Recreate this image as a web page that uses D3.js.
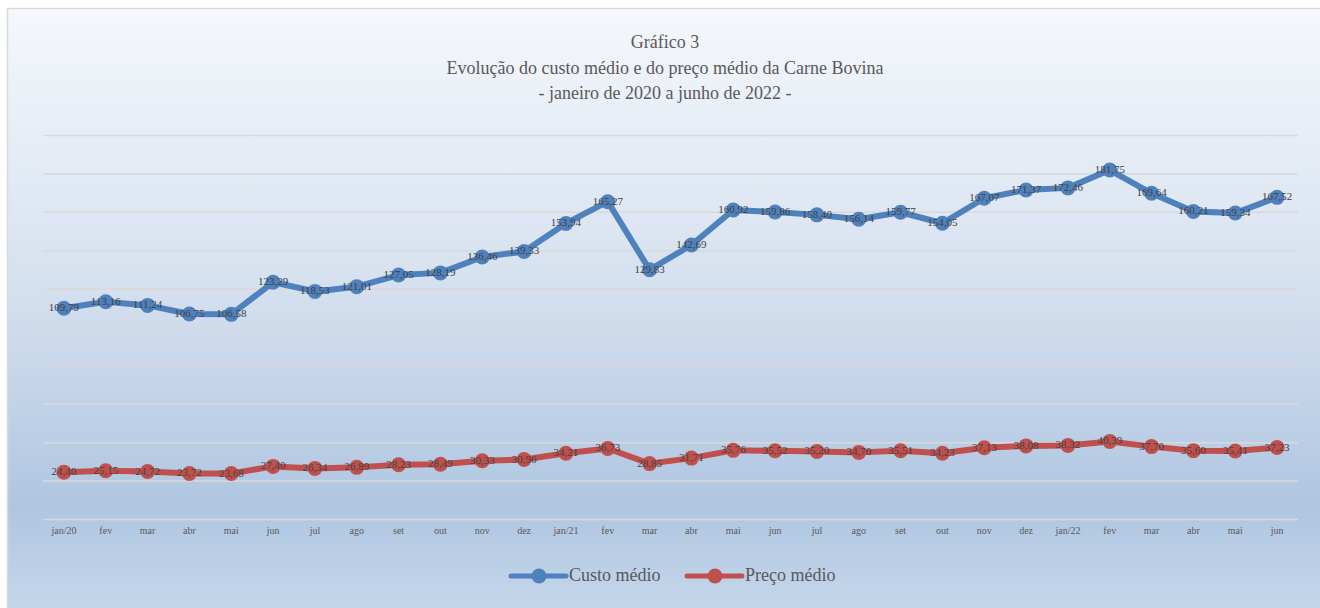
<!DOCTYPE html>
<html>
<head>
<meta charset="utf-8">
<script src="https://cdn.jsdelivr.net/npm/d3@7"></script>
<style>
  body { margin: 0; background: #ffffff; }
  svg { display: block; }
</style>
</head>
<body>
<div id="chart"></div>
<script>
// months (x categories)
var months = ["jan/20", "fev", "mar", "abr", "mai", "jun", "jul", "ago", "set", "out", "nov", "dez",
              "jan/21", "fev", "mar", "abr", "mai", "jun", "jul", "ago", "set", "out", "nov", "dez",
              "jan/22", "fev", "mar", "abr", "mai", "jun"];

// Custo médio
var custo = [109.79, 113.16, 111.24, 106.75, 106.58, 123.29, 118.53, 121.01, 127.05, 128.19, 136.46, 139.33,
             153.94, 165.27, 129.83, 142.69, 160.92, 159.86, 158.40, 156.14, 159.77, 154.05, 167.07, 171.37,
             172.46, 181.75, 169.64, 160.21, 159.34, 167.52];

// Preço médio
var preco = [24.40, 25.15, 24.72, 23.72, 23.68, 27.40, 26.34, 26.89, 28.23, 28.49, 30.33, 30.96,
             34.21, 36.73, 28.85, 31.71, 35.76, 35.52, 35.20, 34.70, 35.51, 34.23, 37.13, 38.08,
             38.32, 40.39, 37.70, 35.60, 35.41, 37.23];

var yTicks = [0, 20, 40, 60, 80, 100, 120, 140, 160, 180, 200];

var titleLines = ["Gráfico 3",
                  "Evolução do custo médio e do preço médio da Carne Bovina",
                  "- janeiro de 2020 a junho de 2022 -"];

var seriesNames = ["Custo médio", "Preço médio"];
var seriesColors = ["#4f81bd", "#c0504d"];

var svgWidth = 1320, svgHeight = 608;
var margin = { top: 135, bottom: 89, left: 43, right: 22 };
var width = svgWidth - margin.left - margin.right;
var height = svgHeight - margin.top - margin.bottom;

var svg = d3.select("#chart").append("svg")
    .attr("width", svgWidth)
    .attr("height", svgHeight);

// background gradient
var grad = svg.append("defs").append("linearGradient")
    .attr("id", "bg")
    .attr("x1", 0).attr("y1", 0).attr("x2", 0).attr("y2", 1);
grad.append("stop").attr("offset", "0%").attr("stop-color", "#f5f8fc");
grad.append("stop").attr("offset", "45%").attr("stop-color", "#d6e1ef");
grad.append("stop").attr("offset", "82%").attr("stop-color", "#afc6e1");
grad.append("stop").attr("offset", "100%").attr("stop-color", "#c6d7eb");

svg.append("rect")
    .attr("x", 7.5).attr("y", 8.5)
    .attr("width", svgWidth).attr("height", svgHeight)
    .attr("fill", "url(#bg)")
    .attr("stroke", "#d9d9d9")
    .attr("stroke-width", 1.5);

// title
svg.append("g").selectAll("text")
    .data(titleLines)
    .enter()
    .append("text")
    .attr("x", 665)
    .attr("y", function(d, i) { return 48 + i * 25.5; })
    .attr("text-anchor", "middle")
    .attr("font-family", "'Liberation Serif', 'Times New Roman', serif")
    .attr("font-size", "18px")
    .attr("fill", "#595959")
    .text(function(d) { return d; });

var chartGroup = svg.append("g")
    .attr("transform", `translate(${margin.left}, ${margin.top})`);

// scales
var xScale = d3.scaleBand()
    .domain(d3.range(months.length))
    .range([0, width]);

var yScale = d3.scaleLinear()
    .domain([0, 200])
    .range([height, 0]);

// gridlines
var yAxis = d3.axisLeft(yScale)
    .tickValues(yTicks)
    .tickSize(-width)
    .tickFormat("");

var gridG = chartGroup.append("g").call(yAxis);
gridG.select(".domain").remove();
gridG.selectAll("line")
    .attr("stroke", "#d9d9d9")
    .attr("stroke-width", 1.5);

// x axis labels
var xAxis = d3.axisBottom(xScale)
    .tickSize(0)
    .tickFormat(function(i) { return months[i]; });

var xG = chartGroup.append("g")
    .attr("transform", `translate(0, ${height})`)
    .call(xAxis);
xG.select(".domain").remove();
xG.selectAll("text")
    .attr("dy", "1.15em")
    .attr("font-family", "'Liberation Serif', 'Times New Roman', serif")
    .attr("font-size", "10px")
    .attr("fill", "#595959");

var cx = function(d, i) { return xScale(i) + xScale.bandwidth() / 2; };
var fmt = function(v) { return d3.format(".2f")(v).replace(".", ","); };

var line = d3.line()
    .x(cx)
    .y(function(d) { return yScale(d); });

[custo, preco].forEach(function(series, s) {
    var g = chartGroup.append("g");
    g.append("path")
        .datum(series)
        .attr("d", line)
        .attr("fill", "none")
        .attr("stroke", seriesColors[s])
        .attr("stroke-width", 6)
        .attr("stroke-linejoin", "round")
        .attr("stroke-linecap", "round");

    g.selectAll("circle")
        .data(series)
        .enter()
        .append("circle")
        .attr("cx", cx)
        .attr("cy", function(d) { return yScale(d); })
        .attr("r", 7.5)
        .attr("fill", seriesColors[s]);

    g.selectAll("text")
        .data(series)
        .enter()
        .append("text")
        .attr("x", cx)
        .attr("y", function(d) { return yScale(d) + 3; })
        .attr("text-anchor", "middle")
        .attr("font-family", "'Liberation Serif', 'Times New Roman', serif")
        .attr("font-size", "11px")
        .attr("fill", "#404040")
        .text(fmt);
});

// legend
var legendX = [511, 687];
var legend = svg.append("g").attr("transform", "translate(0, 576)");
seriesNames.forEach(function(name, s) {
    var lg = legend.append("g").attr("transform", `translate(${legendX[s]}, 0)`);
    lg.append("line")
        .attr("x1", 0).attr("x2", 55)
        .attr("y1", 0).attr("y2", 0)
        .attr("stroke", seriesColors[s])
        .attr("stroke-width", 5)
        .attr("stroke-linecap", "round");
    lg.append("circle")
        .attr("cx", 28).attr("cy", 0)
        .attr("r", 7.5)
        .attr("fill", seriesColors[s]);
    lg.append("text")
        .attr("x", 58)
        .attr("y", 5)
        .attr("font-family", "'Liberation Serif', 'Times New Roman', serif")
        .attr("font-size", "18px")
        .attr("fill", "#595959")
        .text(name);
});
</script>
</body>
</html>
